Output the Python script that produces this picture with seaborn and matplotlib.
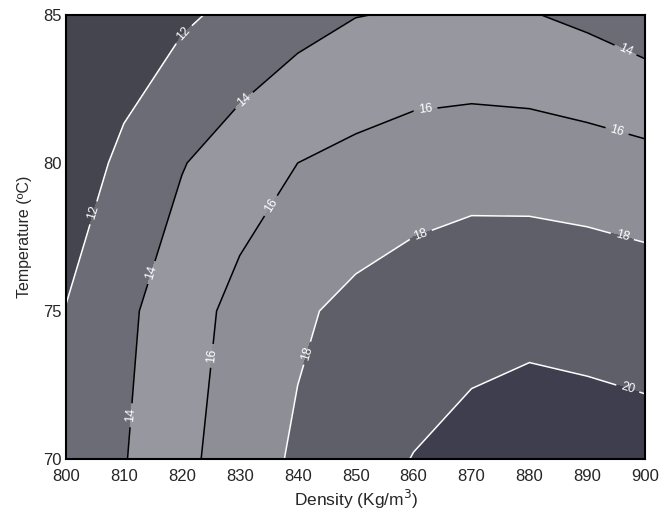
import numpy as np
import matplotlib
matplotlib.use("Agg")
import matplotlib.pyplot as plt
import seaborn as sns

density = [800, 810, 820, 830, 840, 850, 860, 870, 880, 890, 900]
temperature = [70, 75, 80, 85]
z_70 = [12.6, 13.9, 15.5, 17.0, 18.3, 19.3, 20.05, 20.5, 20.75, 20.7, 20.63]
z_75 = [12.05, 13.6, 15.1, 16.6, 17.7, 18.5, 19.0, 19.45, 19.6, 19.45, 19.2]
z_80 = [10.9, 12.4, 13.9, 15.0, 16.0, 16.5, 17.0, 17.2, 17.1, 16.9, 16.6]
z_85 = [10.0, 10.9, 11.7, 12.5, 13.3, 13.95, 14.15, 14.2, 14.1, 13.6, 12.9]

levels = [12, 14, 16, 18, 20]
fill_colors = ["#45454f", "#6c6c76", "#9797a0", "#8e8e97", "#5f5f69", "#3e3e4e"]
line_colors = ["white", "black", "black", "white", "white"]

sns.set_theme(style="white")
plt.rcParams["font.family"] = ["Liberation Sans", "DejaVu Sans"]

X, Y = np.meshgrid(density, temperature)
Z = np.array([z_70, z_75, z_80, z_85])

fig = plt.figure(figsize=(6.66, 5.13), dpi=100)
ax = fig.add_axes([0.099, 0.105, 0.870, 0.866])

ax.contourf(X, Y, Z, levels=[0] + levels + [30], colors=fill_colors)
cs = ax.contour(X, Y, Z, levels=levels, colors=line_colors, linewidths=1.1)

label_pos = [(805, 78.3), (821, 84.2),
             (829, 82.5), (811.5, 76.5), (810, 71.5), (897, 84.0),
             (835, 78.6), (824.5, 73.5), (862, 81.9), (895, 81.0),
             (843, 73.5), (861, 77.7), (896, 77.5),
             (897, 72.4)]
ax.clabel(cs, fmt="%d", fontsize=9, manual=label_pos, inline=True, colors="white")

ax.set_xlim(800, 900)
ax.set_ylim(70, 85)
ax.set_xticks(density)
ax.set_yticks([70, 75, 80, 85])
ax.tick_params(axis="x", labelsize=12, length=0, pad=7)
ax.tick_params(axis="y", labelsize=12, length=0, pad=3)
ax.set_xlabel("Density (Kg/m$^3$)", fontsize=12.5, labelpad=3)
ax.set_ylabel("Temperature (ºC)", fontsize=11.5, labelpad=8)
for side in ax.spines.values():
    side.set_color("black")
    side.set_linewidth(1.5)

fig.savefig("out.png", dpi=100)
